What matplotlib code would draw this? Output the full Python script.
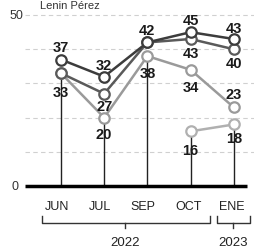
import matplotlib
matplotlib.use("Agg")
import matplotlib.pyplot as plt

# datos
meses = ["JUN", "JUL", "SEP", "OCT", "ENE"]
serie_1 = [37, 32, 42, 45, 43]
serie_2 = [33, 27, 42, 43, 40]
serie_3 = [33, 20, 38, 34, 23]
serie_4 = [None, None, None, 16, 18]
anios = ["2022", "2023"]
titulo = "Lenin Pérez"

# etiquetas: (mes, valor, desplazamiento vertical en px)
etiquetas = [
    (0, 37, 13), (0, 33, -19),
    (1, 32, 12), (1, 27, -12), (1, 20, -16),
    (2, 42, 12), (2, 38, -17),
    (3, 45, 12), (3, 43, -14), (3, 34, -17), (3, 16, -19),
    (4, 43, 11), (4, 40, -14), (4, 23, 13), (4, 18, -14),
]

plt.rcParams['font.family'] = ['Liberation Sans', 'DejaVu Sans']

fig = plt.figure(figsize=(2.55, 2.53), dpi=100)
ax = fig.add_axes([0, 0, 1, 1])
ax.set_xlim(-1.41, 4.49)
ax.set_ylim(-19.3, 54.7)
ax.axis("off")

x = list(range(len(meses)))

# lineas guia
for v in [10, 20, 30, 40, 50]:
    ax.plot([-0.83, 4.49], [v, v], color="#d0d0d0", lw=0.8, ls=(0, (4, 3)), zorder=1)
ax.plot([-0.83, 4.3], [0, 0], color="black", lw=2.5, zorder=3, solid_capstyle="butt")

# lineas verticales hasta el valor mas bajo
for i in x:
    vals = [s[i] for s in (serie_1, serie_2, serie_3, serie_4) if s[i] is not None]
    ax.plot([i, i], [0, min(vals)], color="#222222", lw=1.0, zorder=2)

colores = ["#3c3c3c", "#5a5a5a", "#9a9a9a", "#b0b0b0"]
for s, c in zip([serie_4, serie_3, serie_2, serie_1], colores[::-1]):
    xs = [i for i in x if s[i] is not None]
    ys = [s[i] for i in xs]
    ax.plot(xs, ys, color=c, lw=1.8, marker="o", markersize=7.5,
            markerfacecolor="white", markeredgecolor=c, markeredgewidth=1.6, zorder=4)

for i, v, dy in etiquetas:
    ax.annotate(str(v), (i, v), xytext=(0, dy * 0.72), textcoords="offset points",
                ha="center", va="center", fontsize=10.5, fontweight="bold",
                color="#1a1a1a", zorder=6)

ax.text(-0.87, 50, "50", ha="right", va="center", fontsize=9, color="#333333")
ax.text(-0.98, 0, "0", ha="right", va="center", fontsize=9, color="#333333")
ax.text(0.2, 54.5, titulo, ha="center", va="top", fontsize=8, color="#333333")

for i, m in enumerate(meses):
    ax.text(i - 0.1 if i < 3 else i - 0.05, -5.9, m, ha="center", va="center",
            fontsize=9, color="#222222")

# corchetes de los anios
def corchete(x0, x1, xc, y, etiqueta):
    ax.plot([x0, x0, x1, x1], [y + 2.0, y, y, y + 2.0], color="#333333", lw=1.0)
    ax.plot([xc, xc], [y, y - 1.5], color="#333333", lw=1.0)
    ax.text(xc, y - 5.6, etiqueta, ha="center", va="center", fontsize=9.5, color="#222222")

corchete(-0.44, 3.45, 1.48, -10.8, anios[0])
corchete(3.61, 4.38, 3.98, -10.8, anios[1])

fig.savefig("out.png", dpi=100, facecolor="white")
